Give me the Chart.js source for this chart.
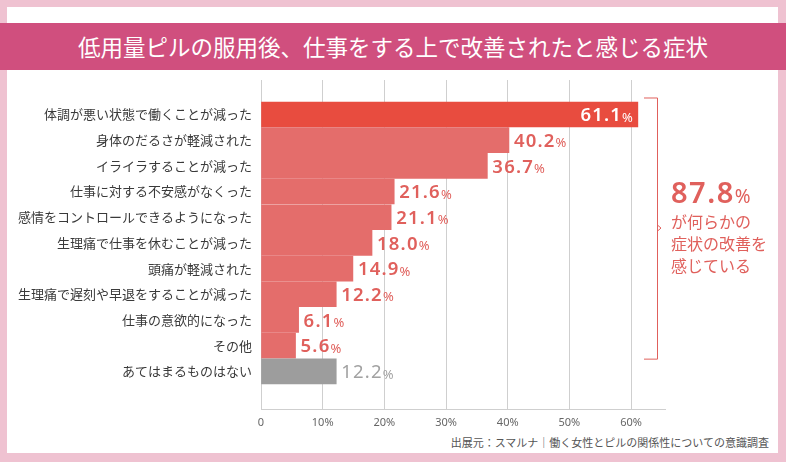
<!DOCTYPE html>
<html>
<head>
<meta charset="utf-8">
<script src="https://cdn.jsdelivr.net/npm/chart.js@4"></script>
<style>
  html, body { margin: 0; padding: 0; }
  body { width: 786px; height: 462px; background: #efc2d1; position: relative; overflow: hidden;
         font-family: "Noto Sans CJK JP", "Noto Sans", sans-serif; }
  #panel { position: absolute; left: 7px; top: 7px; width: 771px; height: 446px; background: #fff; }
  #titulo { position: absolute; left: 0; top: 23px; width: 786px; height: 47px; background: #d04f7e;
            color: #fff; font-size: 22.5px; line-height: 47px; text-align: center; }
  #fuente { position: absolute; right: 17px; top: 434px; font-size: 11px; color: #555; }
  #wrap { position: absolute; left: 0; top: 0; width: 786px; height: 462px; }
</style>
</head>
<body>
<div id="panel"></div>
<div id="titulo">低用量ピルの服用後、仕事をする上で改善されたと感じる症状</div>
<div id="fuente">出展元：スマルナ｜働く女性とピルの関係性についての意識調査</div>
<div id="wrap"><canvas id="grafico" width="786" height="462"></canvas></div>
<script>
const categorias = [
  '体調が悪い状態で働くことが減った',
  '身体のだるさが軽減された',
  'イライラすることが減った',
  '仕事に対する不安感がなくった',
  '感情をコントロールできるようになった',
  '生理痛で仕事を休むことが減った',
  '頭痛が軽減された',
  '生理痛で遅刻や早退をすることが減った',
  '仕事の意欲的になった',
  'その他',
  'あてはまるものはない'
];
const porcentajes = [61.1, 40.2, 36.7, 21.6, 21.1, 18.0, 14.9, 12.2, 6.1, 5.6, 12.2];
const ticksX = [0, 10, 20, 30, 40, 50, 60];
const totalMejora = '87.8';
const textoMejora = ['が何らかの', '症状の改善を', '感じている'];

const ROJO = '#e84c3f', SALMON = '#e46d6b', GRIS = '#9d9d9d';
const colores = porcentajes.map((v, i) => i === 0 ? ROJO : (i === porcentajes.length - 1 ? GRIS : SALMON));

const numFont = '"Noto Sans", "Lato", sans-serif';

const etiquetas = {
  id: 'etiquetas',
  afterDatasetsDraw(chart) {
    const ctx = chart.ctx;
    const meta = chart.getDatasetMeta(0);
    ctx.save();
    ctx.textBaseline = 'middle';
    meta.data.forEach((bar, i) => {
      const num = porcentajes[i].toFixed(1);
      const ultimo = i === porcentajes.length - 1;
      const bigFont = (ultimo ? '' : '600 ') + '18.5px ' + numFont;
      const smallFont = '13px ' + numFont;
      ctx.letterSpacing = '1.2px';
      ctx.font = bigFont;
      const w1 = ctx.measureText(num).width;
      ctx.letterSpacing = '0px';
      ctx.font = smallFont;
      const w2 = ctx.measureText('%').width;
      let x;
      if (i === 0) {
        x = bar.x - 5 - w1 - w2;
        ctx.fillStyle = '#fff';
      } else {
        x = bar.x + 5;
        ctx.fillStyle = ultimo ? '#a2a2a2' : '#e0605c';
      }
      ctx.textAlign = 'left';
      ctx.letterSpacing = '1.2px';
      ctx.font = bigFont;
      ctx.fillText(num, x, bar.y + 1.5);
      ctx.letterSpacing = '0px';
      ctx.font = smallFont;
      ctx.fillText('%', x + w1, bar.y + 3.5);
    });

    // llave y anotación
    const y = chart.scales.y;
    const area = chart.chartArea;
    const top = y.getPixelForValue(0) - 17;
    const bot = y.getPixelForValue(9) + 13;
    const bx = area.right - 8;
    ctx.strokeStyle = '#e0605c';
    ctx.lineWidth = 1;
    ctx.beginPath();
    ctx.moveTo(bx - 13, top + 0.5);
    ctx.lineTo(bx + 0.5, top + 0.5);
    ctx.lineTo(bx + 0.5, bot + 0.5);
    ctx.lineTo(bx - 13, bot + 0.5);
    const mid = (top + bot) / 2;
    ctx.moveTo(bx + 0.5, mid - 3);
    ctx.lineTo(bx + 4, mid);
    ctx.lineTo(bx + 0.5, mid + 3);
    ctx.stroke();

    ctx.fillStyle = '#e0605c';
    ctx.textAlign = 'left';
    const tx = bx + 14;
    ctx.letterSpacing = '1.5px';
    ctx.font = '600 29px ' + numFont;
    ctx.fillText(totalMejora, tx, 195);
    const wt = ctx.measureText(totalMejora).width;
    ctx.letterSpacing = '0px';
    ctx.font = '19px ' + numFont;
    ctx.fillText('%', tx + wt, 198);
    ctx.font = '16px "Noto Sans CJK JP", sans-serif';
    textoMejora.forEach((t, k) => ctx.fillText(t, tx, 222 + k * 22));
    ctx.restore();
  }
};

const ctx = document.getElementById('grafico').getContext('2d');
new Chart(ctx, {
  type: 'bar',
  data: {
    datasets: [{
      data: porcentajes.map((v, i) => ({ x: v, y: i })),
      backgroundColor: colores,
      borderWidth: 0,
      barThickness: 25
    }]
  },
  options: {
    indexAxis: 'y',
    responsive: false,
    animation: false,
    layout: { padding: { left: 0, right: 121, top: 80, bottom: 0 } },
    plugins: { legend: { display: false }, tooltip: { enabled: false } },
    scales: {
      x: {
        type: 'linear',
        min: 0,
        max: 65.5,
        afterBuildTicks: s => { s.ticks = ticksX.map(v => ({ value: v })); },
        afterFit: s => { s.height = 53; },
        grid: { color: '#cfcfcf', drawTicks: false },
        border: { color: '#cfcfcf' },
        ticks: {
          padding: 7,
          color: '#666',
          font: { family: numFont, size: 11 },
          callback: v => v === 0 ? '0' : v + '%'
        }
      },
      y: {
        type: 'linear',
        reverse: true,
        min: -0.761,
        max: 10.885,
        afterBuildTicks: s => { s.ticks = categorias.map((c, i) => ({ value: i })); },
        afterFit: s => { s.width = 261; },
        grid: { display: false, drawTicks: false },
        border: { color: '#cfcfcf' },
        ticks: {
          padding: 9,
          autoSkip: false,
          color: '#3a3a3a',
          font: { family: '"Noto Sans CJK JP", sans-serif', size: 13 },
          callback: v => categorias[v]
        }
      }
    }
  },
  plugins: [etiquetas]
});
</script>
</body>
</html>
